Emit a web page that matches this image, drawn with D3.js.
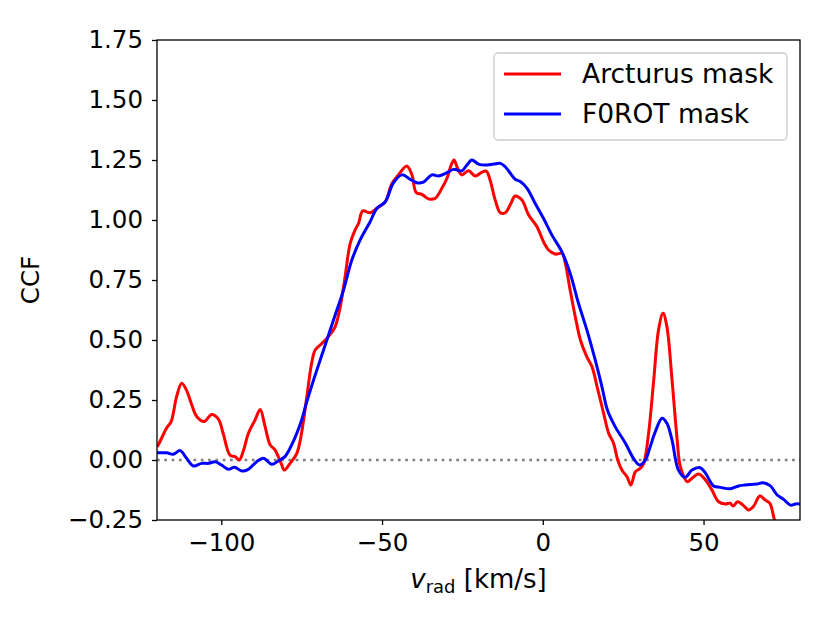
<!DOCTYPE html>
<html>
<head>
<meta charset="utf-8">
<script src="https://cdn.jsdelivr.net/npm/d3@7"></script>
<style>
  body { margin: 0; background: #fff; }
  text { font-family: "DejaVu Sans", sans-serif; }
</style>
</head>
<body>
<div id="figure"></div>
<script>
// radial velocity (km/s) and CCF values
var arcturusV = [-120, -119.6, -117.0, -115.6, -113.9, -112.3, -110.8, -109.2, -107.6, -105.3, -103.0, -100.9, -99.4, -97.3, -95.7, -94.4, -93.1, -91.6, -89.5, -87.9, -86.4, -84.8, -83.3, -81.4, -80.4, -78.6, -76.5, -75.0, -73.4, -71.9, -70.8, -68.7, -66.7, -64.6, -63.0, -61.5, -59.9, -58.4, -57.3, -56.0, -53.7, -51.6, -49.0, -47.0, -44.9, -42.3, -40.7, -39.4, -37.6, -35.6, -33.5, -31.4, -29.8, -28.5, -27.6, -26.5, -25.2, -23.1, -21.0, -19.2, -17.6, -16.4, -14.8, -13.2, -11.7, -9.9, -8.6, -6.5, -4.4, -1.8, 0.2, 1.8, 3.9, 6.0, 7.0, 8.5, 10.1, 11.7, 13.7, 15.3, 16.9, 18.9, 20.5, 22.0, 23.3, 24.6, 26.2, 27.4, 28.8, 30.3, 31.4, 32.9, 34.5, 36.0, 37.4, 38.6, 40.2, 41.8, 42.8, 44.9, 46.4, 48.5, 50.6, 52.6, 54.7, 56.8, 58.3, 59.2, 60.6, 62.3, 64.0, 65.6, 67.5, 69.2, 70.6, 71.8, 72.7, 73.3];
var arcturusCCF = [0.055, 0.063, 0.133, 0.160, 0.264, 0.320, 0.290, 0.230, 0.180, 0.160, 0.190, 0.170, 0.110, 0.020, 0.014, 0.000, 0.040, 0.110, 0.167, 0.210, 0.140, 0.063, 0.042, -0.014, -0.042, -0.014, 0.028, 0.115, 0.264, 0.403, 0.458, 0.486, 0.514, 0.555, 0.639, 0.764, 0.903, 0.958, 0.986, 1.038, 1.030, 1.049, 1.076, 1.150, 1.188, 1.225, 1.188, 1.115, 1.107, 1.088, 1.090, 1.132, 1.174, 1.229, 1.250, 1.215, 1.188, 1.205, 1.183, 1.197, 1.204, 1.167, 1.083, 1.030, 1.030, 1.070, 1.100, 1.083, 1.021, 0.972, 0.910, 0.875, 0.858, 0.861, 0.820, 0.708, 0.597, 0.500, 0.430, 0.389, 0.305, 0.195, 0.111, 0.070, 0.000, -0.042, -0.070, -0.104, -0.049, -0.035, -0.014, 0.111, 0.333, 0.542, 0.611, 0.555, 0.333, 0.083, -0.028, -0.090, -0.076, -0.058, -0.083, -0.125, -0.174, -0.183, -0.180, -0.192, -0.174, -0.188, -0.208, -0.192, -0.150, -0.167, -0.180, -0.236, -0.290, -0.330];

var f0rotV = [-120, -119.6, -117.0, -114.9, -112.8, -110.8, -108.7, -106.1, -104.0, -101.9, -99.9, -97.8, -95.9, -93.6, -91.6, -89.0, -86.9, -84.3, -82.2, -80.2, -78.1, -75.0, -73.9, -71.3, -68.2, -65.1, -62.0, -59.4, -56.8, -53.7, -51.6, -49.0, -46.5, -43.8, -41.3, -39.2, -37.1, -34.5, -32.4, -29.8, -27.8, -25.2, -23.6, -22.1, -20.0, -17.9, -15.3, -13.2, -11.7, -10.1, -8.6, -7.0, -4.9, -2.4, 0.2, 2.8, 5.9, 8.5, 11.1, 13.7, 16.3, 18.4, 20.1, 22.5, 25.7, 28.2, 30.1, 31.9, 33.4, 35.0, 37.1, 38.6, 40.2, 42.2, 44.3, 46.4, 49.0, 50.6, 53.1, 55.2, 58.3, 60.9, 63.0, 66.6, 68.5, 70.8, 72.9, 74.9, 77.0, 78.6, 80.0];
var f0rotCCF = [0.030, 0.030, 0.030, 0.024, 0.039, 0.007, -0.025, -0.014, -0.014, -0.007, -0.021, -0.039, -0.030, -0.046, -0.039, -0.007, 0.007, -0.018, -0.003, 0.014, 0.063, 0.167, 0.220, 0.333, 0.458, 0.583, 0.708, 0.833, 0.917, 0.993, 1.049, 1.076, 1.154, 1.188, 1.170, 1.155, 1.158, 1.188, 1.183, 1.197, 1.211, 1.205, 1.229, 1.250, 1.233, 1.229, 1.233, 1.236, 1.222, 1.195, 1.170, 1.160, 1.132, 1.070, 1.007, 0.938, 0.868, 0.778, 0.653, 0.542, 0.417, 0.305, 0.208, 0.139, 0.070, 0.007, -0.021, 0.000, 0.055, 0.118, 0.174, 0.153, 0.083, -0.042, -0.072, -0.042, -0.032, -0.055, -0.108, -0.114, -0.120, -0.108, -0.104, -0.100, -0.095, -0.108, -0.146, -0.164, -0.188, -0.183, -0.183];

var seriesNames = ["Arcturus mask", "F0ROT mask"];
var seriesColors = ["#ff0000", "#0000ff"];
var xTicks = [-100, -50, 0, 50];
var yTicks = [-0.25, 0, 0.25, 0.5, 0.75, 1.0, 1.25, 1.5, 1.75];

// figure layout
const W = 830, H = 623;
const margin = {top: 40, right: 30, bottom: 103, left: 157},
    width = W - margin.left - margin.right,
    height = H - margin.top - margin.bottom;

const svgRoot = d3.select("#figure")
    .append("svg")
    .attr("width", W)
    .attr("height", H);

const svg = svgRoot.append("g")
    .attr("transform", `translate(${margin.left},${margin.top})`);

const x = d3.scaleLinear().domain([-120, 80]).range([0, width]);
const y = d3.scaleLinear().domain([-0.25, 1.75]).range([height, 0]);

const minus = s => s.replace("-", "\u2212");

svg.append("clipPath").attr("id", "clip")
    .append("rect").attr("width", width).attr("height", height);

// zero line
svg.append("line")
    .attr("x1", 0).attr("x2", width)
    .attr("y1", y(0)).attr("y2", y(0))
    .attr("stroke", "#808080")
    .attr("stroke-width", 2.7)
    .attr("stroke-dasharray", "2.7 4.6");

const line = d3.line()
    .x(d => x(d[0]))
    .y(d => y(d[1]))
    .curve(d3.curveCatmullRom.alpha(0.5));

const series = [
    d3.zip(arcturusV, arcturusCCF),
    d3.zip(f0rotV, f0rotCCF)
];

series.forEach(function(data, i) {
    svg.append("path")
        .datum(data)
        .attr("clip-path", "url(#clip)")
        .attr("fill", "none")
        .attr("stroke", seriesColors[i])
        .attr("stroke-width", 3)
        .attr("stroke-linejoin", "round")
        .attr("d", line);
});

// axes
const xAxis = d3.axisBottom(x).tickValues(xTicks).tickSize(5).tickPadding(9)
    .tickFormat(d => minus(d3.format("d")(d)));
const yAxis = d3.axisLeft(y).tickValues(yTicks).tickSize(5).tickPadding(9)
    .tickFormat(d => minus(d3.format(".2f")(d)));

const gx = svg.append("g")
    .attr("transform", `translate(0, ${height})`)
    .call(xAxis);
const gy = svg.append("g").call(yAxis);

[gx, gy].forEach(function(g) {
    g.select(".domain").remove();
    g.selectAll(".tick line").attr("stroke", "#000").attr("stroke-width", 1.3);
    g.selectAll(".tick text")
        .attr("fill", "#000")
        .style("font-family", "'DejaVu Sans', sans-serif")
        .style("font-size", "24.5px");
});

// frame
svg.append("rect")
    .attr("width", width).attr("height", height)
    .attr("fill", "none")
    .attr("stroke", "#000")
    .attr("stroke-width", 1.3);

// axis labels
const xl = svg.append("text")
    .attr("x", width / 2)
    .attr("y", height + 68)
    .attr("text-anchor", "middle")
    .style("font-size", "26px");
xl.append("tspan").attr("font-style", "italic").text("v");
xl.append("tspan").attr("font-size", "18px").attr("dy", 5).text("rad");
xl.append("tspan").attr("dy", -5).text(" [km/s]");

svg.append("text")
    .attr("transform", `translate(${-118}, ${height / 2}) rotate(-90)`)
    .attr("text-anchor", "middle")
    .style("font-size", "24.5px")
    .text("CCF");

// legend
const legend = svg.append("g")
    .attr("transform", `translate(${494 - margin.left}, ${53 - margin.top})`);
legend.append("rect")
    .attr("width", 293).attr("height", 87)
    .attr("rx", 4).attr("ry", 4)
    .attr("fill", "#fff").attr("fill-opacity", 0.8)
    .attr("stroke", "#cccccc").attr("stroke-width", 1.3);

seriesNames.forEach(function(name, i) {
    const yy = 21 + i * 40;
    legend.append("line")
        .attr("x1", 10).attr("x2", 67)
        .attr("y1", yy).attr("y2", yy)
        .attr("stroke", seriesColors[i])
        .attr("stroke-width", 3);
    legend.append("text")
        .attr("x", 88).attr("y", yy)
        .attr("dy", "0.35em")
        .style("font-size", "26.5px")
        .text(name);
});
</script>
</body>
</html>
